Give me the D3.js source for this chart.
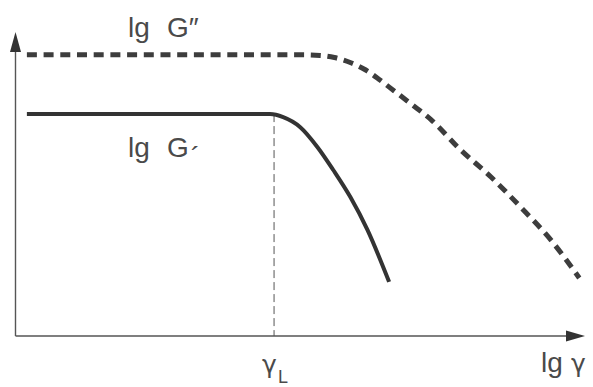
<!DOCTYPE html>
<html>
<head>
<meta charset="utf-8">
<script src="https://cdn.jsdelivr.net/npm/d3@7"></script>
<style>
  html, body { margin: 0; padding: 0; background: #fff; }
  svg { display: block; }
  text { font-family: "Liberation Sans", Arial, sans-serif; fill: #4a4a4a; }
  .greek { font-family: "DejaVu Sans", sans-serif; }
</style>
</head>
<body>
<svg id="chart" width="593" height="387"></svg>
<script>
// G'' (dashed) vs. shear amplitude, in log units
const gDoubleX = [0.2, 5.0, 5.35, 5.6, 5.9, 6.15, 6.4, 6.65, 6.95, 7.3, 7.8, 8.35, 8.85, 9.4, 9.9];
const gDoubleY = [9.25, 9.25, 9.23, 9.16, 8.98, 8.75, 8.42, 8.06, 7.63, 7.11, 6.15, 5.23, 4.28, 3.16, 1.91];

// G' (solid) vs. shear amplitude
const gPrimeX = [0.2, 4.47, 4.7, 5.0, 5.3, 5.58, 5.88, 6.18, 6.56];
const gPrimeY = [7.3, 7.3, 7.2, 6.87, 6.22, 5.46, 4.57, 3.49, 1.78];

// Limit of the linear-viscoelastic range
const gammaL = 4.54;
const gammaLLevel = 7.3;

const xDomain = [0, 10];
const yDomain = [0, 10];

const svg = d3.select("#chart");

const x = d3.scaleLinear().domain(xDomain).range([15.5, 585]);
const y = d3.scaleLinear().domain(yDomain).range([336, 32]);

const line = d3.line()
  .x(d => x(d[0]))
  .y(d => y(d[1]))
  .curve(d3.curveMonotoneX);

// Axes: plain lines with filled arrowheads
const axisColor = "#555";
svg.append("line")
  .attr("x1", x(0)).attr("y1", y(0))
  .attr("x2", x(0)).attr("y2", y(10) + 12)
  .attr("stroke", axisColor).attr("stroke-width", 1.4);
svg.append("line")
  .attr("x1", x(0)).attr("y1", y(0))
  .attr("x2", x(10) - 12).attr("y2", y(0))
  .attr("stroke", axisColor).attr("stroke-width", 1.4);

svg.append("path")
  .attr("d", `M${x(0)},${y(10)} L${x(0) - 5.5},${y(10) + 20} L${x(0) + 5.5},${y(10) + 20} Z`)
  .attr("fill", "#333");
svg.append("path")
  .attr("d", `M${x(10)},${y(0)} L${x(10) - 19},${y(0) - 5.5} L${x(10) - 19},${y(0) + 5.5} Z`)
  .attr("fill", "#333");

// Vertical marker at gamma_L
svg.append("line")
  .attr("x1", x(gammaL)).attr("y1", y(gammaLLevel))
  .attr("x2", x(gammaL)).attr("y2", y(0))
  .attr("stroke", "#555").attr("stroke-width", 1)
  .attr("stroke-dasharray", "8 4");

// G'' dashed curve
svg.append("path")
  .datum(d3.zip(gDoubleX, gDoubleY))
  .attr("d", line)
  .attr("fill", "none")
  .attr("stroke", "#3d3d3d")
  .attr("stroke-width", 5)
  .attr("stroke-dasharray", "10 6.7");

// G' solid curve
svg.append("path")
  .datum(d3.zip(gPrimeX, gPrimeY))
  .attr("d", line)
  .attr("fill", "none")
  .attr("stroke", "#333")
  .attr("stroke-width", 4)
  .attr("stroke-linecap", "butt");

// Labels
const t1 = svg.append("text").attr("x", 128).attr("y", 37).attr("font-size", 28);
t1.append("tspan").text("lg");
t1.append("tspan").attr("x", 167).text("G\u2033");

const t2 = svg.append("text").attr("x", 128).attr("y", 157).attr("font-size", 28);
t2.append("tspan").text("lg");
t2.append("tspan").attr("x", 167).text("G");
t2.append("tspan").attr("dx", 2).attr("dy", 9).text("\u00B4");

const t3 = svg.append("text").attr("x", 541).attr("y", 372).attr("font-size", 28);
t3.append("tspan").text("lg");
t3.append("tspan").attr("class", "greek").attr("x", 571).attr("font-size", 25).text("\u03B3");

const t4 = svg.append("text").attr("x", 262).attr("y", 373).attr("font-size", 25).attr("class", "greek");
t4.append("tspan").text("\u03B3");
t4.append("tspan").attr("x", 278).attr("y", 383).attr("font-size", 18)
  .style("font-family", "Liberation Sans, Arial, sans-serif").text("L");
</script>
</body>
</html>
